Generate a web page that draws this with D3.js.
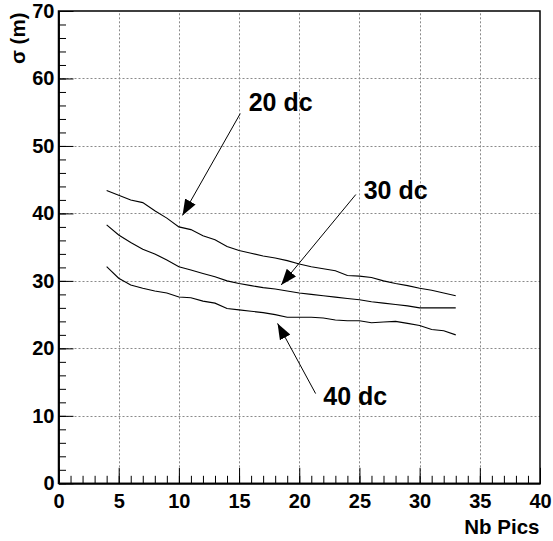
<!DOCTYPE html>
<html>
<head>
<meta charset="utf-8">
<script src="https://cdn.jsdelivr.net/npm/d3@7/dist/d3.min.js"></script>
<style>
  html, body { margin: 0; padding: 0; background: #fff; }
  svg { display: block; }
  text { font-family: "Liberation Sans", Arial, Helvetica, sans-serif; font-weight: bold; }
</style>
</head>
<body>
<svg id="chart" width="553" height="541"></svg>
<script>
// ---- data ----
const nbPics = [4,5,6,7,8,9,10,11,12,13,14,15,16,17,18,19,20,21,22,23,24,25,26,27,28,29,30,31,32,33];
const sigma20dc = [43.4,42.7,42.0,41.6,40.4,39.3,38.0,37.6,36.7,36.1,35.1,34.5,34.1,33.7,33.4,33.0,32.5,32.1,31.8,31.5,30.8,30.7,30.5,30.0,29.6,29.3,28.9,28.6,28.2,27.8];
const sigma30dc = [38.3,36.8,35.7,34.7,34.0,33.1,32.1,31.6,31.1,30.6,30.0,29.6,29.3,29.0,28.8,28.5,28.2,28.0,27.8,27.6,27.4,27.2,26.9,26.7,26.5,26.3,26.0,26.0,26.0,26.0];
const sigma40dc = [32.1,30.4,29.4,28.9,28.5,28.2,27.6,27.5,27.0,26.7,25.9,25.7,25.5,25.3,25.0,24.6,24.6,24.6,24.5,24.2,24.1,24.1,23.8,23.9,24.0,23.7,23.4,22.8,22.6,22.0];
const xMajorTicks = [0,5,10,15,20,25,30,35,40];
const yMajorTicks = [0,10,20,30,40,50,60,70];
const annLabels = ["20 dc","30 dc","40 dc"];
const annTextPos = [[15.8,55.2],[25.35,42.2],[22.0,11.6]];
const annArrowFrom = [[15.1,54.8],[24.7,42.8],[21.36,13.3]];
const annArrowTo = [[10.3,39.7],[18.5,29.4],[18.2,23.7]];
const xTitle = "Nb Pics";
const yTitle = "σ (m)";

// ---- layout ----
const svg = d3.select("#chart");
const x = d3.scaleLinear().domain([0,40]).range([58.5,540]);
const y = d3.scaleLinear().domain([0,70]).range([483.3,11]);

// grid
const grid = svg.append("g").attr("stroke","#8a8a8a").attr("stroke-width",1).attr("stroke-dasharray","2,2");
grid.selectAll("line.gx").data(xMajorTicks.filter(d=>d>0&&d<40)).enter().append("line")
  .attr("x1",d=>Math.round(x(d))+0.5).attr("x2",d=>Math.round(x(d))+0.5)
  .attr("y1",y(0)).attr("y2",y(70));
grid.selectAll("line.gy").data(yMajorTicks.filter(d=>d>0&&d<70)).enter().append("line")
  .attr("y1",d=>Math.round(y(d))+0.5).attr("y2",d=>Math.round(y(d))+0.5)
  .attr("x1",x(0)).attr("x2",x(40));

// frame
svg.append("rect").attr("x",x(0)).attr("y",y(70)).attr("width",x(40)-x(0)).attr("height",y(0)-y(70))
  .attr("fill","none").attr("stroke","#000").attr("stroke-width",1.5);

// x axis
const xAxis = d3.axisBottom(x).tickValues(xMajorTicks).tickSizeInner(-15.5).tickSizeOuter(0).tickPadding(11).tickFormat(d3.format("d"));
const gx = svg.append("g").attr("transform",`translate(0,${y(0)})`).call(xAxis);
const xMinor = d3.axisBottom(x).ticks(40).tickSizeInner(-7.5).tickSizeOuter(0).tickFormat("");
svg.append("g").attr("transform",`translate(0,${y(0)})`).call(xMinor);

// y axis
const yAxis = d3.axisLeft(y).tickValues(yMajorTicks).tickSizeInner(-15).tickSizeOuter(0).tickPadding(4).tickFormat(d3.format("d"));
const gy = svg.append("g").attr("transform",`translate(${x(0)},0)`).call(yAxis);
const yMinor = d3.axisLeft(y).ticks(35).tickSizeInner(-7.5).tickSizeOuter(0).tickFormat("");
svg.append("g").attr("transform",`translate(${x(0)},0)`).call(yMinor);

svg.selectAll(".domain").attr("stroke","#000").attr("stroke-width",1.5);
svg.selectAll(".tick line").attr("stroke","#000").attr("stroke-width",1);
gx.selectAll(".tick text").attr("font-size",20).attr("font-family","Liberation Sans, Arial, sans-serif").attr("font-weight","bold").attr("fill","#000").attr("dy","0.71em");
gy.selectAll(".tick text").attr("font-size",20).attr("font-family","Liberation Sans, Arial, sans-serif").attr("font-weight","bold").attr("fill","#000");

// axis titles
svg.append("text").attr("x",539.5).attr("y",534).attr("text-anchor","end").attr("font-size",20.5).text(xTitle);
svg.append("text").attr("transform",`translate(25,12.5) rotate(-90)`).attr("text-anchor","end").attr("font-size",20.5).text(yTitle);

// curves
const line = d3.line().x((d,i)=>x(nbPics[i])).y(d=>y(d));
[sigma20dc, sigma30dc, sigma40dc].forEach(s=>{
  svg.append("path").datum(s).attr("d",line).attr("fill","none").attr("stroke","#000").attr("stroke-width",1.1);
});

// arrows
svg.append("defs").append("marker").attr("id","ah").attr("viewBox","0 0 16 12").attr("refX",16).attr("refY",6)
  .attr("markerWidth",16).attr("markerHeight",12).attr("markerUnits","userSpaceOnUse").attr("orient","auto")
  .append("path").attr("d","M0,0 L16,6 L0,12 Z").attr("fill","#000");
annLabels.forEach((lab,i)=>{
  svg.append("line").attr("x1",x(annArrowFrom[i][0])).attr("y1",y(annArrowFrom[i][1]))
    .attr("x2",x(annArrowTo[i][0])).attr("y2",y(annArrowTo[i][1]))
    .attr("stroke","#000").attr("stroke-width",1).attr("marker-end","url(#ah)");
  svg.append("text").attr("x",x(annTextPos[i][0])).attr("y",y(annTextPos[i][1])).attr("font-size",25).text(lab);
});
</script>
</body>
</html>
